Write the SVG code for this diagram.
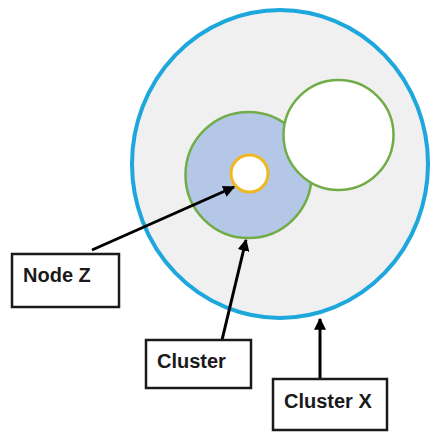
<svg xmlns="http://www.w3.org/2000/svg" width="430" height="432" viewBox="0 0 430 432">
<style>
.box{fill:#ffffff;stroke:#1a1a1a;stroke-width:2.5}
.lbl{font-family:"Liberation Sans",Arial,sans-serif;font-weight:bold;font-size:20px;fill:#1a1a1a}
.conn{stroke:#000;stroke-width:3;fill:none;marker-end:url(#ah)}
.grn{stroke:#70ad47;stroke-width:2.5}
</style>
<defs>
<marker id="ah" viewBox="0 0 10 10" refX="9" refY="5" markerWidth="4" markerHeight="4" orient="auto" markerUnits="strokeWidth">
<path d="M0,0 L10,5 L0,10 z" fill="#000"/>
</marker>
</defs>
<rect width="430" height="432" fill="#ffffff"/>
<g id="clusterX">
<ellipse cx="280" cy="164" rx="148" ry="154" fill="#f0f0f0" stroke="#1ea7dd" stroke-width="4"/>
</g>
<g id="cluster">
<circle cx="248.5" cy="175" r="63" fill="#b4c7e7" class="grn"/>
</g>
<g id="otherCluster">
<circle cx="338.5" cy="135" r="55" fill="#ffffff" class="grn"/>
</g>
<g id="nodeZ">
<circle cx="249.5" cy="173.5" r="18.5" fill="#ffffff" stroke="#f0b820" stroke-width="3"/>
</g>
<g id="connectors">
<line x1="92" y1="250" x2="234" y2="187" class="conn"/>
<line x1="222" y1="340" x2="246" y2="240" class="conn"/>
<line x1="320" y1="379" x2="320" y2="319" class="conn"/>
</g>
<g id="labelNodeZ">
<rect x="12" y="254" width="107" height="53" class="box"/>
<text x="23" y="282" class="lbl">Node Z</text>
</g>
<g id="labelCluster">
<rect x="146" y="340" width="105" height="48" class="box"/>
<text x="157" y="368" class="lbl">Cluster</text>
</g>
<g id="labelClusterX">
<rect x="273" y="379" width="114" height="51" class="box"/>
<text x="284" y="408" class="lbl">Cluster X</text>
</g>
</svg>
